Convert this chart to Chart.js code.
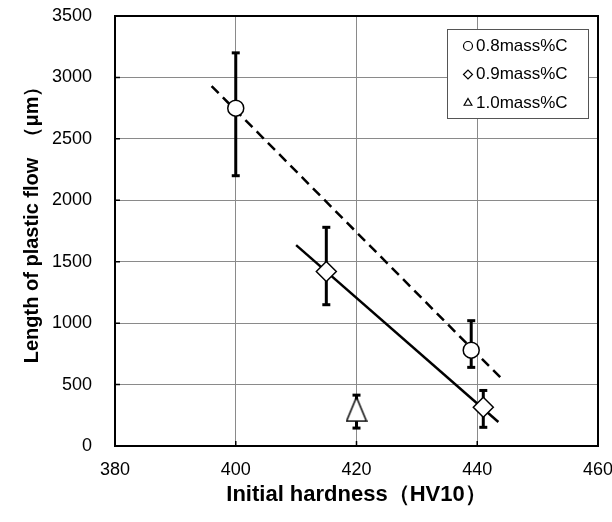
<!DOCTYPE html>
<html>
<head>
<meta charset="utf-8">
<script src="https://cdn.jsdelivr.net/npm/chart.js@4/dist/chart.umd.min.js"></script>
<style>
  html, body { margin: 0; padding: 0; background: #fff; }
</style>
</head>
<body>
<canvas id="chart" width="612" height="522"></canvas>
<script>
// Data
const seriesLabels = ['0.8mass%C', '0.9mass%C', '1.0mass%C'];

const hardness08 = [400, 439];
const flow08 = [2750, 780];
const low08 = [2200, 640];
const high08 = [3200, 1020];

const hardness09 = [415, 441];
const flow09 = [1420, 315];
const low09 = [1150, 152];
const high09 = [1780, 452];

const hardness10 = [420];
const flow10 = [300];
const low10 = [146];
const high10 = [414];

// fitted trend lines (end points)
const fit08X = [396, 444];
const fit08Y = [2930, 550];
const fit09X = [410, 443.5];
const fit09Y = [1635, 195];

const xTicks = [380, 400, 420, 440, 460];
const yTicks = [0, 500, 1000, 1500, 2000, 2500, 3000, 3500];

const FONT = '"Liberation Sans", Arial, sans-serif';

function toPoints(xs, ys) {
    return xs.map((x, i) => ({ x: x, y: ys[i] }));
}

// tall open triangle used for the 1.0mass%C marker
function triangleImage(w, h) {
    const c = document.createElement('canvas');
    c.width = w + 2;
    c.height = h + 2;
    const g = c.getContext('2d');
    g.fillStyle = '#fff';
    g.strokeStyle = '#000';
    g.lineWidth = 1.5;
    g.beginPath();
    g.moveTo(c.width / 2, 1);
    g.lineTo(c.width - 1, c.height - 1);
    g.lineTo(1, c.height - 1);
    g.closePath();
    g.fill();
    g.stroke();
    return c;
}

// one small dataset per error bar, caps drawn with the 'line' point style
function errorBars(xs, lows, highs) {
    return xs.map((x, i) => ({
        data: [{ x: x, y: lows[i] }, { x: x, y: highs[i] }],
        showLine: true,
        borderColor: '#000',
        borderWidth: 3,
        pointStyle: 'line',
        pointRadius: 4,
        pointBorderWidth: 3,
        pointBorderColor: '#000',
        order: 3
    }));
}

function markers(xs, ys, style, radius) {
    return {
        data: toPoints(xs, ys),
        showLine: false,
        pointStyle: style,
        pointRadius: radius,
        pointBackgroundColor: '#fff',
        pointBorderColor: '#000',
        pointBorderWidth: 1.5,
        order: 1
    };
}

const datasets = [
    markers(hardness08, flow08, 'circle', 8),
    markers(hardness09, flow09, 'rectRot', 10),
    markers(hardness10, flow10, triangleImage(20, 24), 12),
    {
        data: toPoints(fit08X, fit08Y),
        showLine: true,
        borderColor: '#000',
        borderWidth: 2.5,
        borderDash: [10, 6],
        pointRadius: 0,
        order: 2
    },
    {
        data: toPoints(fit09X, fit09Y),
        showLine: true,
        borderColor: '#000',
        borderWidth: 2.5,
        pointRadius: 0,
        order: 2
    },
    ...errorBars(hardness08, low08, high08),
    ...errorBars(hardness09, low09, high09),
    ...errorBars(hardness10, low10, high10)
];

// frame around the plot area plus short inward tick marks
const framePlugin = {
    id: 'frame',
    beforeDatasetsDraw(chart) {
        const { ctx, chartArea: a, scales } = chart;
        ctx.save();
        ctx.strokeStyle = '#000';
        ctx.lineWidth = 2;
        ctx.strokeRect(a.left, a.top, a.right - a.left, a.bottom - a.top);
        ctx.lineWidth = 1.5;
        ctx.beginPath();
        xTicks.forEach(v => {
            const px = scales.x.getPixelForValue(v);
            ctx.moveTo(px, a.bottom);
            ctx.lineTo(px, a.bottom - 5);
        });
        yTicks.forEach(v => {
            const py = scales.y.getPixelForValue(v);
            ctx.moveTo(a.left, py);
            ctx.lineTo(a.left + 5, py);
        });
        ctx.stroke();
        ctx.restore();
    }
};

// boxed legend in the upper right corner
const legendPlugin = {
    id: 'boxLegend',
    afterDraw(chart) {
        const { ctx } = chart;
        const styles = ['circle', 'rectRot', 'triangle'];
        const box = { x: 447, y: 29, w: 141, h: 89 };
        ctx.save();
        ctx.fillStyle = '#fff';
        ctx.fillRect(box.x, box.y, box.w, box.h);
        ctx.strokeStyle = '#555';
        ctx.lineWidth = 1;
        ctx.strokeRect(box.x + 0.5, box.y + 0.5, box.w, box.h);
        ctx.font = '17px ' + FONT;
        ctx.textBaseline = 'middle';
        seriesLabels.forEach((label, i) => {
            const y = 45 + i * 28.5;
            ctx.strokeStyle = '#000';
            ctx.fillStyle = '#fff';
            ctx.lineWidth = 1.2;
            Chart.helpers.drawPoint(ctx, { pointStyle: styles[i], radius: 4.5, rotation: 0, borderWidth: 1.2 }, 468, y + 1);
            ctx.fillStyle = '#000';
            ctx.fillText(label, 476, y + 1);
        });
        ctx.restore();
    }
};

new Chart(document.getElementById('chart'), {
    type: 'scatter',
    data: { datasets: datasets },
    options: {
        responsive: false,
        animation: false,
        layout: { padding: { top: 16, right: 14, left: 0, bottom: 0 } },
        plugins: {
            legend: { display: false },
            tooltip: { enabled: false }
        },
        scales: {
            x: {
                type: 'linear',
                min: 380,
                max: 460,
                afterBuildTicks(scale) { scale.ticks = xTicks.map(v => ({ value: v })); },
                afterFit(scale) {
                    scale.height = 76;
                    scale.paddingLeft = 0;
                    scale.paddingRight = 0;
                },
                grid: { color: '#8a8a8a', lineWidth: 1, drawTicks: false },
                border: { color: '#000', width: 2 },
                ticks: { color: '#000', font: { family: FONT, size: 18 }, padding: 13 },
                title: {
                    display: true,
                    text: 'Initial hardness（HV10）',
                    color: '#000',
                    font: { family: FONT, size: 22, weight: 'bold' },
                    padding: { top: 0, bottom: 14 }
                }
            },
            y: {
                type: 'linear',
                min: 0,
                max: 3500,
                afterBuildTicks(scale) { scale.ticks = yTicks.map(v => ({ value: v })); },
                afterFit(scale) {
                    scale.width = 115;
                    scale.paddingTop = 0;
                    scale.paddingBottom = 0;
                },
                grid: { color: '#8a8a8a', lineWidth: 1, drawTicks: false },
                border: { color: '#000', width: 2 },
                ticks: {
                    color: '#000',
                    font: { family: FONT, size: 18 },
                    padding: 23,
                    callback: v => String(v)
                },
                title: {
                    display: true,
                    text: '    Length of plastic flow  （μm）',
                    color: '#000',
                    font: { family: FONT, size: 20, weight: 'bold' },
                    padding: { top: 20, bottom: 0 }
                }
            }
        }
    },
    plugins: [framePlugin, legendPlugin]
});
</script>
</body>
</html>
